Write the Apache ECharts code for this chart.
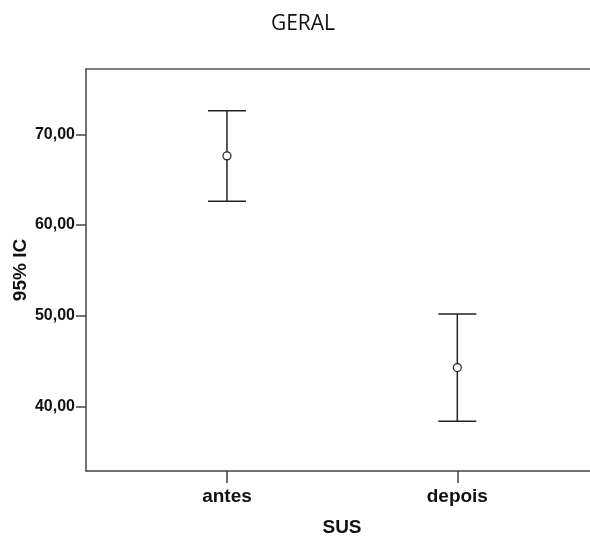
<!DOCTYPE html>
<html>
<head>
<meta charset="utf-8">
<script src="https://cdn.jsdelivr.net/npm/echarts@6/dist/echarts.min.js"></script>
<style>html,body{margin:0;padding:0;background:#fff;}#c{width:590px;height:539px;}</style>
</head>
<body>
<div id="c"></div>
<script>
var categories = ['antes', 'depois'];
var means = [67.63, 44.28];
var lowers = [62.64, 38.37];
var uppers = [72.60, 50.19];
var yTickValues = [40, 50, 60, 70];

var data = categories.map(function (c, i) { return [i, lowers[i], uppers[i], means[i]]; });

var chart = echarts.init(document.getElementById('c'));
var lineColor = '#222';
chart.setOption({
  animation: false,
  backgroundColor: '#fff',
  title: {
    text: 'GERAL', left: 298, top: 9, textAlign: 'center',
    textStyle: { fontFamily: 'Open Sans', fontSize: 21, fontWeight: 'normal', color: '#111' }
  },
  grid: { left: 86, top: 69, right: 0, bottom: 68, containLabel: false, outerBoundsMode: 'none' },
  xAxis: [{
    type: 'value', min: -0.612, max: 1.576, position: 'bottom',
    name: 'SUS', nameLocation: 'middle', nameGap: 47, nameMoveOverlap: false,
    nameTextStyle: { fontFamily: 'Liberation Sans', fontWeight: 'bold', fontSize: 19, color: '#111', padding: [0, 0, 0, 8] },
    splitLine: { show: false },
    axisLine: { show: true, onZero: false, lineStyle: { color: '#444', width: 1.5 } },
    axisTick: { show: true, length: 12, customValues: [0, 1], lineStyle: { color: '#444', width: 1.5 } },
    axisLabel: {
      customValues: [0, 1], margin: 16,
      formatter: function (v) { return categories[Math.round(v)]; },
      fontFamily: 'Liberation Sans', fontWeight: 'bold', fontSize: 19, color: '#111'
    }
  }, {
    type: 'value', min: -0.612, max: 1.576, position: 'top',
    splitLine: { show: false },
    axisLine: { show: true, onZero: false, lineStyle: { color: '#555', width: 1.5 } },
    axisTick: { show: false }, axisLabel: { show: false }
  }],
  yAxis: {
    type: 'value', min: 32.88, max: 77.21, position: 'left',
    name: '95% IC', nameLocation: 'middle', nameGap: 56, nameMoveOverlap: false,
    nameTextStyle: { fontFamily: 'Liberation Sans', fontWeight: 'bold', fontSize: 19, color: '#111' },
    splitLine: { show: false },
    axisLine: { show: true, onZero: false, lineStyle: { color: '#444', width: 1.5 } },
    axisTick: { show: true, length: 10, customValues: yTickValues, lineStyle: { color: '#444', width: 1.5 } },
    axisLabel: {
      customValues: yTickValues, margin: 11,
      formatter: function (v) { return v.toFixed(2).replace('.', ','); },
      fontFamily: 'Liberation Sans', fontWeight: 'bold', fontSize: 16, color: '#111'
    }
  },
  series: [{
    type: 'custom',
    xAxisIndex: 0,
    data: data,
    renderItem: function (params, api) {
      var x = api.value(0);
      var lo = api.coord([x, api.value(1)]);
      var hi = api.coord([x, api.value(2)]);
      var m = api.coord([x, api.value(3)]);
      var hw = 19, r = 4;
      var st = { stroke: lineColor, lineWidth: 1.5, fill: null };
      return {
        type: 'group',
        children: [
          { type: 'line', shape: { x1: hi[0], y1: hi[1], x2: m[0], y2: m[1] - r }, style: st },
          { type: 'line', shape: { x1: m[0], y1: m[1] + r, x2: lo[0], y2: lo[1] }, style: st },
          { type: 'line', shape: { x1: hi[0] - hw, y1: hi[1], x2: hi[0] + hw, y2: hi[1] }, style: st },
          { type: 'line', shape: { x1: lo[0] - hw, y1: lo[1], x2: lo[0] + hw, y2: lo[1] }, style: st },
          { type: 'circle', shape: { cx: m[0], cy: m[1], r: r }, style: { stroke: lineColor, lineWidth: 1.2, fill: 'none' } }
        ]
      };
    }
  }]
});
</script>
</body>
</html>
